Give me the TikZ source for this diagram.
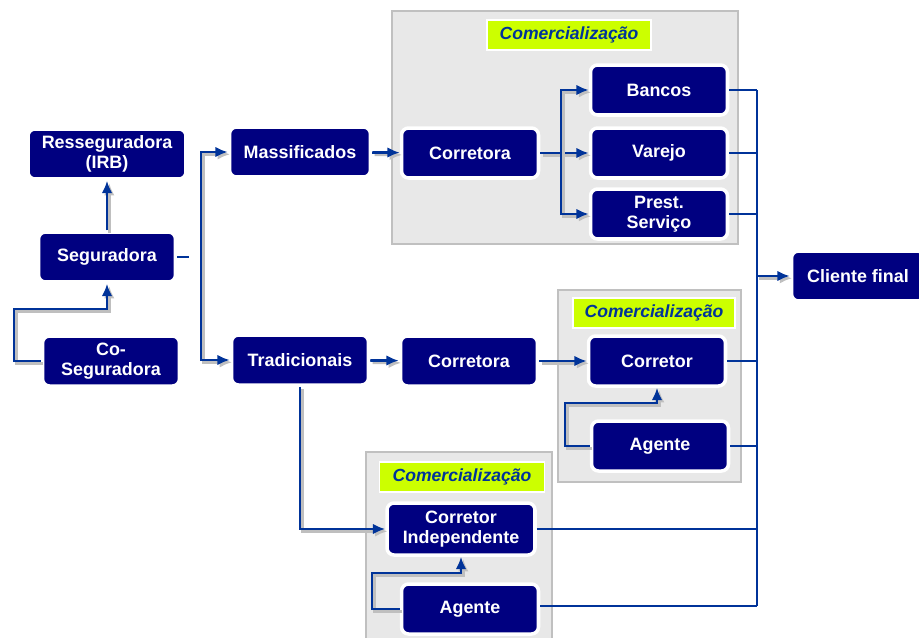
\documentclass[tikz,border=0pt]{standalone}
\usepackage{fontspec}
\setmainfont{Liberation Sans}
\usetikzlibrary{arrows.meta}

\definecolor{navybox}{RGB}{0,0,128}
\definecolor{linkblue}{RGB}{0,51,153}
\definecolor{panelgray}{RGB}{232,232,232}
\definecolor{panelline}{RGB}{192,192,192}
\definecolor{tagyellow}{RGB}{204,255,0}

\tikzset{
  box/.style={rectangle, rounded corners=4pt, fill=navybox, draw=white, line width=2pt,
    text=white, font=\fontsize{10.2}{11.5}\selectfont\bfseries, align=center,
    minimum width=2.74cm, minimum height=1cm, inner sep=2pt},
  tag/.style={rectangle, fill=tagyellow, draw=white, line width=0.8pt, text=linkblue,
    font=\fontsize{10}{12}\selectfont\bfseries\itshape, minimum width=3.2cm, minimum height=0.6cm},
  panel/.style={fill=panelgray, draw=panelline, line width=0.8pt},
  link/.style={draw=linkblue, line width=1.2pt},
  arrow/.style={draw=linkblue, line width=1.5pt, -{Latex[length=7pt,width=6pt]},
    preaction={draw=black!25, line width=1.5pt, -{Latex[length=7pt,width=6pt]},
      transform canvas={shift={(1.3pt,-1.3pt)}}}}
}

\begin{document}
\begin{tikzpicture}[x=0.02cm, y=-0.02cm]

    \useasboundingbox (0,0) rectangle (919,637);
    \clip (0,0) rectangle (919,637);

    % --- Paineis de comercializacao ---
    \draw[panel] (392,11) rectangle (738,244);
    \draw[panel] (558,290) rectangle (741,482);
    \draw[panel] (366,452) rectangle (552,660);

    \node[tag, minimum width=3.28cm] (tag1) at (569,35) {Comercialização};
    \node[tag, minimum width=3.24cm] (tag2) at (654,313) {Comercialização};
    \node[tag, minimum width=3.3cm] (tag3) at (462,477) {Comercialização};

    % --- Seguradoras ---
    \node[box, minimum width=3.16cm] (res) at (107,154) {Resseguradora\\(IRB)};
    \node[box] (seg) at (107,257) {Seguradora};
    \node[box] (cos) at (111,361) {Co-\\Seguradora};

    % --- Ramos ---
    \node[box, minimum width=2.82cm] (mas) at (300,152) {Massificados};
    \node[box] (tra) at (300,360) {Tradicionais};

    % --- Canais ---
    \node[box] (cor1) at (470,153) {Corretora};
    \node[box] (ban) at (659,90) {Bancos};
    \node[box] (var) at (659,153) {Varejo};
    \node[box] (pre) at (659,214) {Prest.\\Serviço};
    \node[box] (cor2) at (469,361) {Corretora};
    \node[box] (ctr) at (657,361) {Corretor};
    \node[box] (age1) at (660,446) {Agente};
    \node[box, minimum width=2.96cm, minimum height=1.04cm] (ci) at (461,529) {Corretor\\Independente};
    \node[box] (age2) at (470,609) {Agente};
    \node[box, minimum width=2.66cm] (cli) at (858,276) {Cliente final};

    % --- Pontos auxiliares ---
    \coordinate (segstub) at (189,257);
    \coordinate (fork1) at (201,256);
    \coordinate (fork2) at (561,153);
    \coordinate (bustop) at (757,90);

    % --- Ligacoes das seguradoras ---
    \draw[arrow] (seg.north) -- (res.south);
    \draw[arrow] (cos.west) -- (14,361) -- (14,309) -| (seg.south);
    \draw[link, line width=1.5pt] (seg.east) -- (segstub);
    \draw[arrow] (fork1) |- (mas.west);
    \draw[arrow] (fork1) |- (tra.west);

    % --- Massificados ---
    \draw[arrow] (mas) -- (cor1);
    \draw[arrow] (cor1) -- (var);
    \draw[arrow] (fork2) |- (ban.west);
    \draw[arrow] (fork2) |- (pre.west);

    % --- Tradicionais ---
    \draw[arrow] (tra) -- (cor2);
    \draw[arrow] (cor2) -- (ctr);
    \draw[arrow] (age1.west) -| (565,403) -| (ctr.south);
    \draw[arrow] (tra.south) |- (ci.west);
    \draw[arrow] (age2.west) -| (372,573) -| (ci.south);

    % --- Barramento para o cliente final ---
    \foreach \n in {ban, var, pre, ctr, age1, ci}
        \draw[link] (\n.east) -- (\n.east -| bustop);
    \draw[link] (age2.east |- 0,606) -- (bustop |- 0,606);
    \draw[link] (bustop) -- (bustop |- 0,606);
    \draw[arrow] (bustop |- cli.west) -- (cli.west);

\end{tikzpicture}
\end{document}
